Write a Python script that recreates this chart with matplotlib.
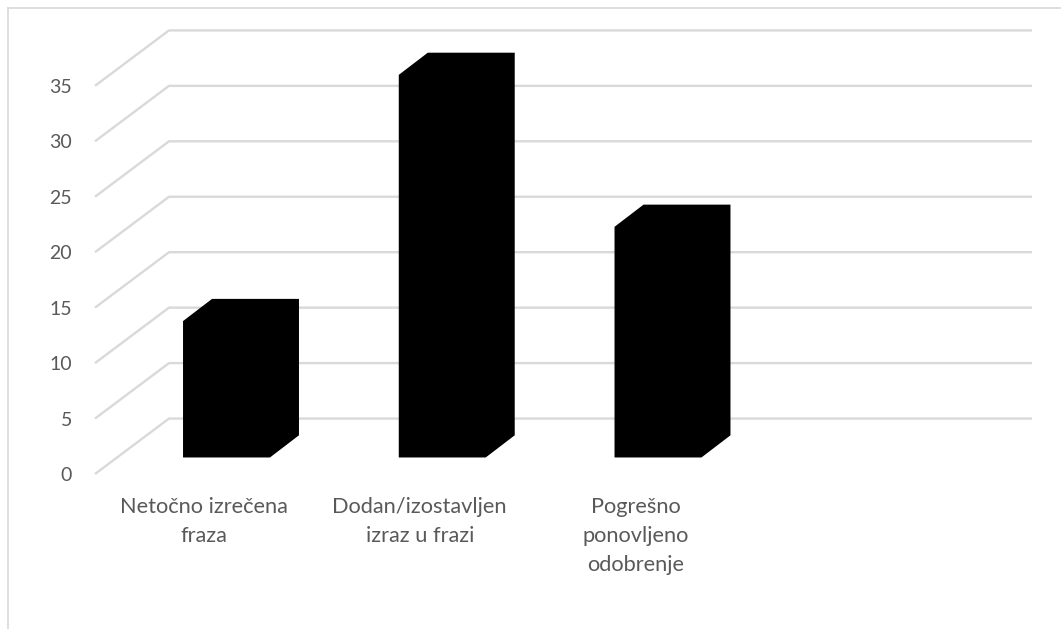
import matplotlib
matplotlib.use('Agg')
import matplotlib.pyplot as plt
from matplotlib.lines import Line2D
from matplotlib.patches import Polygon

# values
categories = ['Netočno izrečena\nfraza', 'Dodan/izostavljen\nizraz u frazi', 'Pogrešno\nponovljeno\nodobrenje']
values = [12.3, 34.5, 20.8]
y_ticks = [0, 5, 10, 15, 20, 25, 30, 35]

W, H = 1061, 629
grid_col = '#d9d9d9'
text_col = '#595959'

plt.rcParams['font.family'] = ['Lato', 'DejaVu Sans']

fig = plt.figure(figsize=(W/100, H/100), dpi=100)
# plot area in pixels: left 95, right 1032, y=0 at 474, y=40 at 30
ax = fig.add_axes([95/W, (H-474)/H, 937/W, 443.6/H])
n_slots = 4
wall_dx = 74/215.75   # depth of the back wall in x units
wall_dy = 5           # and in y units
ax.set_xlim(0, n_slots + wall_dx)
ax.set_ylim(0, 40)
for s in ax.spines.values():
    s.set_visible(False)

# walls
for t in y_ticks:
    ax.plot([0, wall_dx, n_slots + wall_dx], [t, t + wall_dy, t + wall_dy],
            color=grid_col, lw=1.7, zorder=1, clip_on=False, solid_capstyle='butt')

# bars, a front plate with the depth cut in at the corners
bar_off = 0.408
bar_w = 0.403
bar_dx = 29/215.75
bar_dy = 2.0
base = 1.49
for i, v in enumerate(values):
    l = i + bar_off
    r = l + bar_w
    top = base + v
    pts = [(l, base), (r, base), (r + bar_dx, base + bar_dy),
           (r + bar_dx, top + bar_dy), (l + bar_dx, top + bar_dy), (l, top)]
    ax.add_patch(Polygon(pts, closed=True, facecolor='black', edgecolor='none', zorder=3))

ax.set_yticks(y_ticks)
ax.set_xticks([i + 0.505 for i in range(len(categories))])
ax.set_xticklabels(categories, linespacing=1.56)
ax.tick_params(axis='y', length=0, pad=16.5, labelsize=14, labelcolor=text_col)
ax.tick_params(axis='x', length=0, pad=16.5, labelsize=15.7, labelcolor=text_col)

# outer frame, only top and left show in the picture
fig.add_artist(Line2D([8/W, 8/W], [0, 1 - 8/H], color=grid_col, lw=1.2, transform=fig.transFigure))
fig.add_artist(Line2D([8/W, 1], [1 - 8/H, 1 - 8/H], color=grid_col, lw=1.2, transform=fig.transFigure))

fig.savefig('out.png', dpi=100)
